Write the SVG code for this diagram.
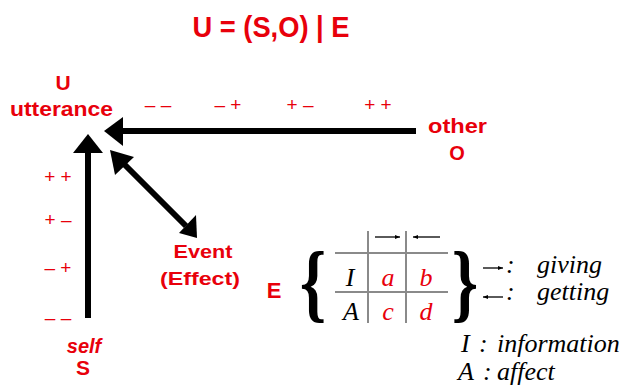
<svg xmlns="http://www.w3.org/2000/svg" width="620" height="387" viewBox="0 0 620 387">
<style>
.rb{font-family:"Liberation Sans",Arial,sans-serif;font-weight:bold;fill:#e8000b}
.rs{font-family:"Liberation Sans",Arial,sans-serif;fill:#e8000b;font-size:19px}
.it{font-family:"Liberation Serif","Times New Roman",serif;font-style:italic;font-size:26px;fill:#000}
.itr{font-family:"Liberation Serif","Times New Roman",serif;font-style:italic;font-size:26px;fill:#e8000b}
.itb{font-family:"Liberation Serif","Times New Roman",serif;font-style:italic;font-size:26px;fill:#000}
.br{font-family:"Liberation Serif","Times New Roman",serif;font-size:86px;font-weight:bold;fill:#000}
.ln{stroke:#000;stroke-width:6;fill:none}
.grid{stroke:#8a8a8a;stroke-width:2;fill:none}
.sm{stroke:#000;stroke-width:1.3;fill:none}
</style>
<defs>
<marker id="ah" viewBox="0 0 10 10" refX="10" refY="5" markerWidth="7" markerHeight="5" orient="auto" markerUnits="userSpaceOnUse">
<path d="M0,1 L10,5 L0,9 z" fill="#000"/>
</marker>
</defs>
<text class="rb" x="271" y="37" font-size="29" text-anchor="middle" textLength="157" lengthAdjust="spacingAndGlyphs">U = (S,O) | E</text>
<g id="utterance">
<text class="rb" x="63" y="90" font-size="21" text-anchor="middle">U</text>
<text class="rb" x="10" y="116" font-size="21" textLength="103" lengthAdjust="spacingAndGlyphs">utterance</text>
</g>
<g id="other">
<text class="rb" x="428" y="133" font-size="20" textLength="59" lengthAdjust="spacingAndGlyphs">other</text>
<text class="rb" x="457" y="160" font-size="20" text-anchor="middle">O</text>
</g>
<g id="self">
<text class="rb" x="84" y="353" font-size="20" font-style="italic" text-anchor="middle">self</text>
<text class="rb" x="83" y="375" font-size="21" text-anchor="middle">S</text>
</g>
<g id="event">
<text class="rb" x="203" y="258" font-size="19" text-anchor="middle" textLength="59" lengthAdjust="spacingAndGlyphs">Event</text>
<text class="rb" x="200" y="285" font-size="19" text-anchor="middle" textLength="80" lengthAdjust="spacingAndGlyphs">(Effect)</text>
</g>
<g id="scale-top">
<text class="rs" x="158" y="111" text-anchor="middle">– –</text>
<text class="rs" x="228" y="111" text-anchor="middle">– +</text>
<text class="rs" x="300" y="111" text-anchor="middle">+ –</text>
<text class="rs" x="378" y="111" text-anchor="middle">+ +</text>
</g>
<g id="scale-left">
<text class="rs" x="58" y="183" text-anchor="middle">+ +</text>
<text class="rs" x="58" y="226" text-anchor="middle">+ –</text>
<text class="rs" x="58" y="274" text-anchor="middle">– +</text>
<text class="rs" x="58" y="324" text-anchor="middle">– –</text>
</g>
<g id="connectors">
<line class="ln" x1="416" y1="131" x2="120" y2="131"/>
<polygon points="104,131 123,117 123,146" fill="#000"/>
<line class="ln" x1="88" y1="318" x2="88" y2="150"/>
<polygon points="88,134 73,153 103,153" fill="#000"/>
<line class="ln" x1="120" y1="160" x2="186" y2="226"/>
<polygon points="110,150 134,157 115,175" fill="#000"/>
<polygon points="197,238 179,233 196,215" fill="#000"/>
</g>
<g id="E-matrix">
<text class="rb" x="274" y="298" font-size="22" text-anchor="middle">E</text>
<text class="br" x="313" y="311" text-anchor="middle" transform="translate(313 285) scale(0.78 1) translate(-313 -285)">{</text>
<text class="br" x="465" y="311" text-anchor="middle" transform="translate(465 285) scale(0.78 1) translate(-465 -285)">}</text>
<line class="grid" x1="368" y1="231" x2="368" y2="323"/>
<line class="grid" x1="406" y1="231" x2="406" y2="323"/>
<line class="grid" x1="335" y1="253" x2="448" y2="253"/>
<line class="grid" x1="335" y1="292" x2="448" y2="292"/>
<line class="sm" x1="375" y1="237" x2="400" y2="237" marker-end="url(#ah)"/>
<line class="sm" x1="440" y1="237" x2="413" y2="237" marker-end="url(#ah)"/>
<text class="itb" x="350" y="286" text-anchor="middle">I</text>
<text class="itr" x="388" y="286" text-anchor="middle">a</text>
<text class="itr" x="426" y="286" text-anchor="middle">b</text>
<text class="itb" x="351" y="320" text-anchor="middle">A</text>
<text class="itr" x="388" y="320" text-anchor="middle">c</text>
<text class="itr" x="426" y="320" text-anchor="middle">d</text>
</g>
<g id="legend">
<line class="sm" x1="483" y1="268" x2="503" y2="268" marker-end="url(#ah)"/>
<text class="it" x="506" y="273">:<tspan x="537">giving</tspan></text>
<line class="sm" x1="503" y1="297" x2="483" y2="297" marker-end="url(#ah)"/>
<text class="it" x="506" y="300">:<tspan x="537">getting</tspan></text>
<text class="it" x="461" y="352">I<tspan x="479">:</tspan><tspan x="497">information</tspan></text>
<text class="it" x="458" y="380">A<tspan x="483">:</tspan><tspan x="497">affect</tspan></text>
</g>
</svg>
